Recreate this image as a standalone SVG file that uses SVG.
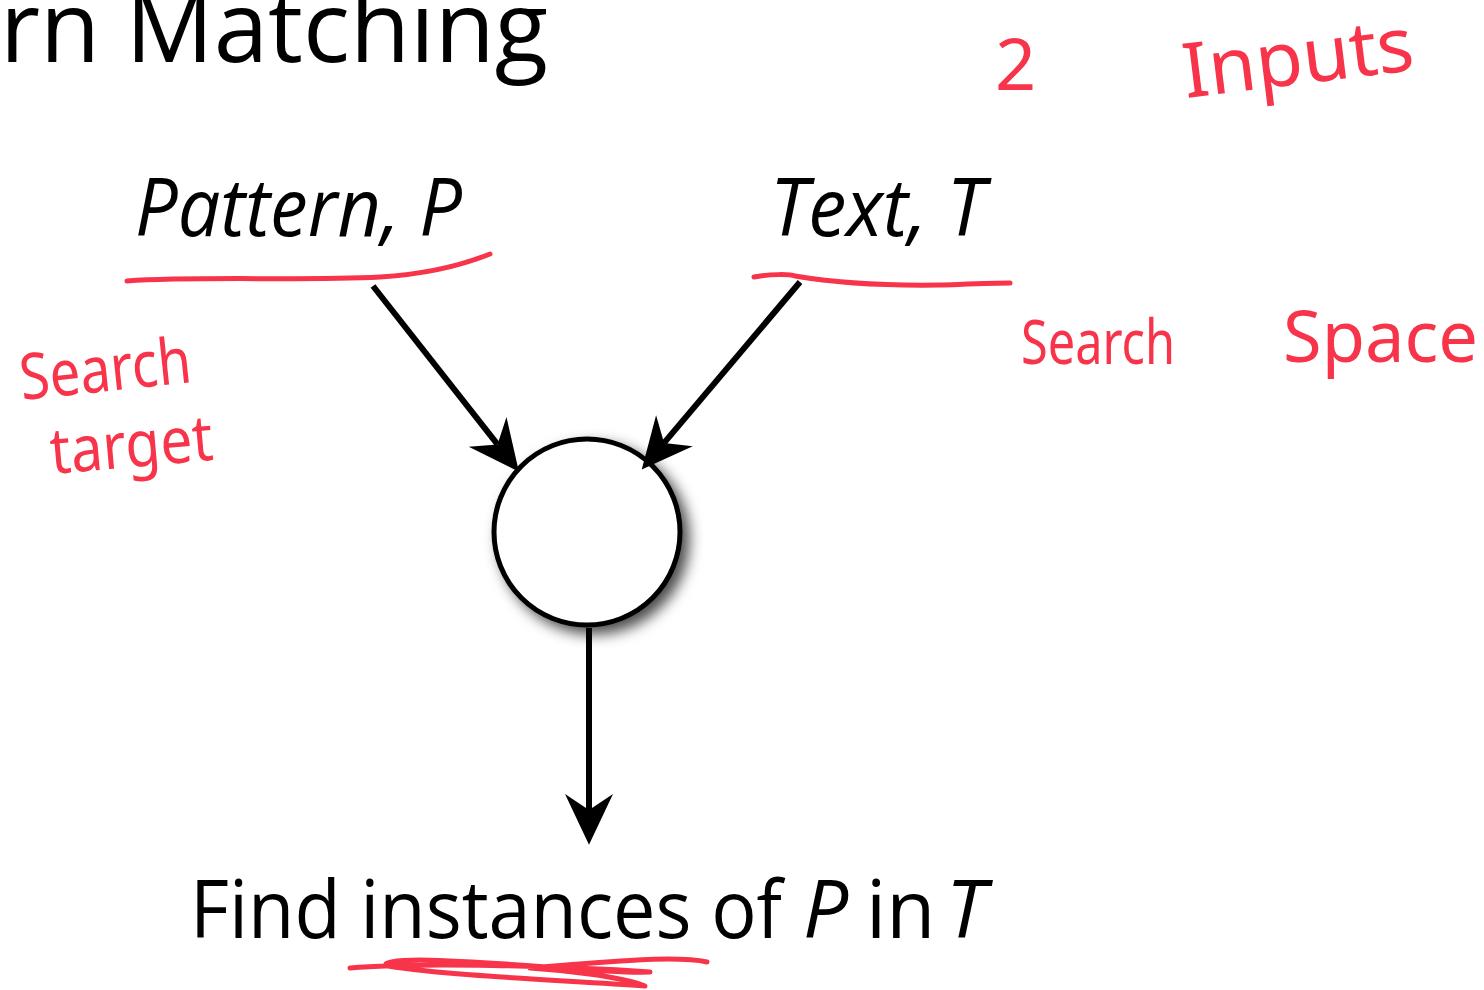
<svg xmlns="http://www.w3.org/2000/svg" width="1484" height="990" viewBox="0 0 1484 990">
<defs>
<style>
.t{font-family:"Open Sans","Noto Sans","Liberation Sans",sans-serif;fill:#000}
.i{font-style:italic}
.hw{font-family:"Noto Sans","DejaVu Sans",sans-serif;fill:#f7344a;font-weight:400}
.ink{fill:none;stroke:#f7344a;stroke-width:5;stroke-linecap:round;stroke-linejoin:round}
.edge{fill:none;stroke:#000;stroke-width:6}
</style>
<marker id="ah" markerUnits="userSpaceOnUse" markerWidth="60" markerHeight="60" refX="0" refY="0" viewBox="-15 -20 45 40" orient="auto" overflow="visible">
<path d="M-12,-18 L26,0 L-12,18 L0,0 Z" fill="#000"/>
</marker>
<filter id="sh" x="-30%" y="-30%" width="170%" height="170%">
<feDropShadow dx="7" dy="7" stdDeviation="7" flood-color="#000" flood-opacity="0.7"/>
</filter>
</defs>
<rect width="1484" height="990" fill="#fff"/>

<g id="title">
<text class="t" x="0" y="62" font-size="98" textLength="548" lengthAdjust="spacingAndGlyphs">rn Matching</text>
</g>

<g id="node-pattern">
<text class="t i" x="135" y="236" font-size="80" textLength="327" lengthAdjust="spacingAndGlyphs">Pattern, P</text>
</g>
<g id="node-text">
<text class="t i" x="770" y="236" font-size="80" textLength="215" lengthAdjust="spacingAndGlyphs">Text, T</text>
</g>
<g id="node-match">
<circle cx="587" cy="532" r="93" fill="#fff" stroke="#000" stroke-width="5" filter="url(#sh)"/>
</g>
<g id="node-result">
<text class="t" x="190" y="938" font-size="80" textLength="592" lengthAdjust="spacingAndGlyphs">Find instances of</text>
<text class="t i" x="803" y="938" font-size="80">P</text>
<text class="t" x="866" y="938" font-size="80">in</text>
<text class="t i" x="946" y="938" font-size="80">T</text>
</g>

<g id="connectors">
<line class="edge" x1="373" y1="286" x2="497.5" y2="444.4" marker-end="url(#ah)"/>
<line class="edge" x1="800" y1="282" x2="664.1" y2="442.9" marker-end="url(#ah)"/>
<line class="edge" x1="589" y1="628" x2="589" y2="810" marker-end="url(#ah)"/>
</g>

<g id="annotations">
<path class="ink" d="M127,281 C200,276 300,281 380,277 C430,274 465,264 490,254"/>
<path class="ink" d="M754,277 C770,274 790,274 795,276 C830,282 870,286 940,285 C970,284 995,283 1010,283"/>
<path class="ink" d="M350,968 C420,962 560,966 650,972 C600,974 520,962 420,960 C395,960 380,963 388,966 C450,976 560,980 645,986 C620,976 560,970 530,968 C600,962 675,955 707,962"/>
<text class="hw" x="995" y="90" font-size="72">2</text>
<text class="hw" x="1186" y="98" font-size="76" textLength="232" lengthAdjust="spacingAndGlyphs" transform="rotate(-7 1186 98)">Inputs</text>
<text class="hw" x="22" y="400" font-size="64" textLength="172" lengthAdjust="spacingAndGlyphs" transform="rotate(-6 22 400)">Search</text>
<text class="hw" x="52" y="474" font-size="64" textLength="163" lengthAdjust="spacingAndGlyphs" transform="rotate(-5 52 474)">target</text>
<text class="hw" x="1021" y="364" font-size="62" textLength="154" lengthAdjust="spacingAndGlyphs">Search</text>
<text class="hw" x="1283" y="362" font-size="72" textLength="195" lengthAdjust="spacingAndGlyphs">Space</text>
</g>
</svg>
